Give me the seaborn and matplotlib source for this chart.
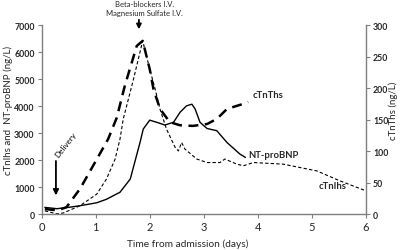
import matplotlib
matplotlib.use("Agg")
import matplotlib.pyplot as plt
import seaborn as sns
import pandas as pd

# ---- data ----
nt_days = [0.06, 0.28, 0.5, 0.71, 1.02, 1.2, 1.45, 1.64, 1.82, 1.88, 2.0, 2.13, 2.28, 2.44,
           2.56, 2.68, 2.78, 2.84, 2.93, 3.06, 3.24, 3.43, 3.67, 3.77]
nt_vals = [250, 200, 250, 310, 420, 550, 810, 1300, 2650, 3150, 3480, 3400, 3300, 3400,
           3770, 4010, 4070, 3890, 3400, 3170, 3090, 2650, 2220, 2100]

tni_days = [0.06, 0.28, 0.4, 0.71, 1.02, 1.2, 1.36, 1.45, 1.51, 1.7, 1.87, 2.0, 2.1, 2.19,
            2.31, 2.47, 2.53, 2.59, 2.65, 2.87, 3.06, 3.3, 3.39, 3.61, 3.73, 3.92, 4.47,
            5.09, 5.52, 6.0]
tni_vals = [120, 10, 40, 310, 740, 1300, 2040, 2780, 3520, 5000, 6420, 5370, 4630, 3890,
            3150, 2470, 2340, 2650, 2410, 2040, 1910, 1910, 2040, 1850, 1790, 1910, 1850,
            1600, 1230, 860]

tnt_days = [0.06, 0.3, 0.46, 0.71, 1.02, 1.23, 1.39, 1.54, 1.76, 1.87, 2.0, 2.07, 2.19,
            2.37, 2.56, 2.8, 3.06, 3.24, 3.43, 3.73, 3.82]
tnt_vals = [8, 6, 11, 40, 87, 119, 153, 204, 267, 275, 230, 198, 167, 146, 141, 140, 143,
            151, 167, 175, 178]

x_ticks = [0, 1, 2, 3, 4, 5, 6]
left_ticks = [0, 1000, 2000, 3000, 4000, 5000, 6000, 7000]
right_ticks = [0, 50, 100, 150, 200, 250, 300]

sns.set_style("white")
plt.rcParams['font.family'] = ['Lato', 'DejaVu Sans']

fig = plt.figure(figsize=(4, 2.51), dpi=100)
ax = fig.add_axes([0.104, 0.143, 0.811, 0.753])
ax2 = ax.twinx()

nt = pd.DataFrame({"day": nt_days, "val": nt_vals})
tni = pd.DataFrame({"day": tni_days, "val": tni_vals})
tnt = pd.DataFrame({"day": tnt_days, "val": tnt_vals})

sns.lineplot(data=nt, x="day", y="val", ax=ax, sort=False, estimator=None,
             color="black", linewidth=1.0)
sns.lineplot(data=tni, x="day", y="val", ax=ax, sort=False, estimator=None,
             color="black", linewidth=0.8)
ax.lines[-1].set_dashes((3, 2))
sns.lineplot(data=tnt, x="day", y="val", ax=ax2, sort=False, estimator=None,
             color="black", linewidth=1.8)
ax2.lines[-1].set_dashes((4, 2.6))

ax.set_xlim(0, 6)
ax.set_ylim(0, 7000)
ax2.set_ylim(0, 300)
ax.set_xticks(x_ticks)
ax.set_xticklabels([str(t) for t in x_ticks], fontsize=8)
ax.set_yticks(left_ticks)
ax.set_yticklabels([str(t) for t in left_ticks], fontsize=6.3, fontweight="bold")
ax2.set_yticks(right_ticks)
ax2.set_yticklabels([str(t) for t in right_ticks], fontsize=6.3, fontweight="bold")

for a in (ax, ax2):
    for s in a.spines.values():
        s.set_visible(False)
    a.grid(False)
    a.set_xlabel("")
    a.set_ylabel("")
ax.spines["left"].set_visible(True)
ax.spines["bottom"].set_visible(True)
ax2.spines["right"].set_visible(True)
for s in (ax.spines["left"], ax.spines["bottom"], ax2.spines["right"]):
    s.set_color("#7f7f7f")
    s.set_linewidth(1.0)

ax.tick_params(axis="both", length=3, width=0.8, color="#7f7f7f", pad=2, left=True, bottom=True)
ax2.tick_params(axis="y", length=3, width=0.8, color="#7f7f7f", pad=2, right=True)

fig.text(0.02, 0.56, "cTnIhs and  NT-proBNP (ng/L)", rotation=90, fontsize=7,
         ha="center", va="center")
fig.text(0.982, 0.56, "cTnThs (ng/L)", rotation=90, fontsize=7, ha="center", va="center")
fig.text(0.47, 0.025, "Time from admission (days)", fontsize=7.3, ha="center", va="center")

# series labels
ax.text(3.9, 4420, "cTnThs", fontsize=6.8, fontweight="bold", va="center", ha="left")
ax.text(3.82, 2190, "NT-proBNP", fontsize=6.8, fontweight="bold", va="center", ha="left")
ax.text(5.13, 1070, "cTnIhs", fontsize=6.8, fontweight="bold", va="center", ha="left")

# annotations
ax.annotate("", xy=(0.265, 590), xytext=(0.265, 2070),
            arrowprops=dict(arrowstyle="-|>", color="black", lw=1.3, mutation_scale=8))
ax.text(0.45, 2600, "Delivery", rotation=52, fontsize=5.8, color="black",
        ha="center", va="center")

ax.annotate("", xy=(1.80, 6740), xytext=(1.80, 7300), annotation_clip=False,
            arrowprops=dict(arrowstyle="-|>", color="black", lw=1.3, mutation_scale=7))
fig.text(0.362, 0.982, "Beta-blockers I.V.", fontsize=5.5, ha="center", va="center")
fig.text(0.362, 0.948, "Magnesium Sulfate I.V.", fontsize=5.5, ha="center", va="center")

fig.savefig("out.png", dpi=100)
